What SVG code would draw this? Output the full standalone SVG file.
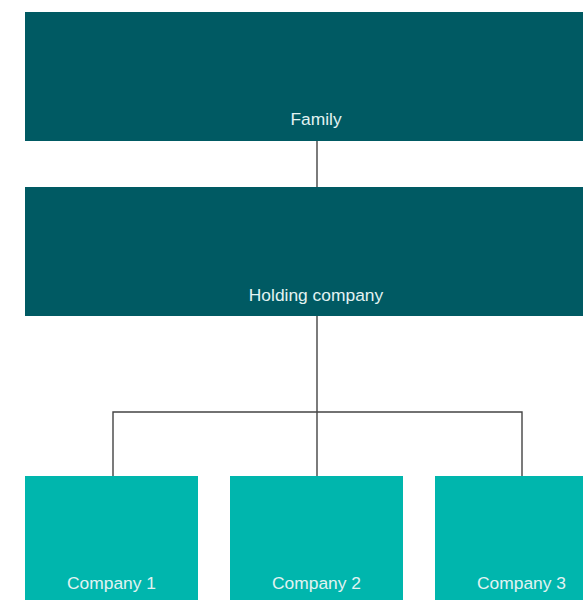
<svg xmlns="http://www.w3.org/2000/svg" width="583" height="600" viewBox="0 0 583 600">
<style>
.dark{fill:#005a63}
.light{fill:#00b6ad}
.lbl{font-family:"Liberation Sans",Arial,sans-serif;font-size:17.4px;fill:#e2f3f2;text-anchor:middle}
.conn{fill:none;stroke:#444;stroke-width:1.4}
</style>
<rect width="583" height="600" fill="#fff"/>
<g id="connectors">
<line class="conn" x1="317" y1="141" x2="317" y2="187"/>
<line class="conn" x1="317" y1="316" x2="317" y2="476"/>
<polyline class="conn" points="113,476 113,412 522,412 522,476"/>
</g>
<g id="family">
<rect class="dark" x="25" y="12" width="583" height="129"/>
<text class="lbl" x="316" y="125">Family</text>
</g>
<g id="holding">
<rect class="dark" x="25" y="187" width="583" height="129"/>
<text class="lbl" x="316" y="301">Holding company</text>
</g>
<g id="company1">
<rect class="light" x="25" y="476" width="173" height="124"/>
<text class="lbl" x="111.5" y="589">Company 1</text>
</g>
<g id="company2">
<rect class="light" x="230" y="476" width="173" height="124"/>
<text class="lbl" x="316.5" y="589">Company 2</text>
</g>
<g id="company3">
<rect class="light" x="435" y="476" width="173" height="124"/>
<text class="lbl" x="521.5" y="589">Company 3</text>
</g>
</svg>
